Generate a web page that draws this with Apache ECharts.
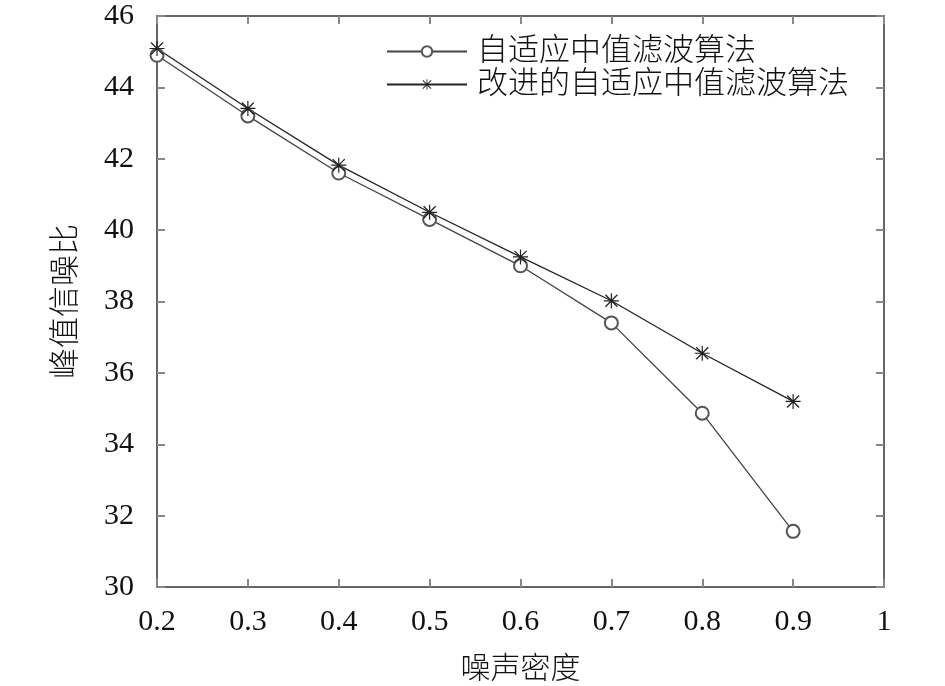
<!DOCTYPE html>
<html>
<head>
<meta charset="utf-8">
<title>峰值信噪比</title>
<script src="https://cdn.jsdelivr.net/npm/echarts@6/dist/echarts.min.js"></script>
<style>
html, body { margin: 0; padding: 0; background: #fff; }
#chart { width: 945px; height: 686px; }
</style>
</head>
<body>
<div id="chart"></div>
<script>
// 噪声密度 / 峰值信噪比
var noiseDensity = [0.2, 0.3, 0.4, 0.5, 0.6, 0.7, 0.8, 0.9];
var psnrAdaptive = [44.9, 43.2, 41.6, 40.3, 39.0, 37.4, 34.87, 31.56];
var psnrImproved = [45.09, 43.41, 41.82, 40.5, 39.25, 38.02, 36.55, 35.2];
var seriesNames = ['自适应中值滤波算法', '改进的自适应中值滤波算法'];
var xRange = [0.2, 1];
var yRange = [30, 46];

var serif = '"Liberation Serif", "Times New Roman", serif';
var cjk = '"Liberation Serif", "Noto Sans CJK SC", serif';

// 星号标记
var asterisk = 'path://M9.2 0L10.8 0L10.8 20L9.2 20Z M0 9.2L20 9.2L20 10.8L0 10.8Z ' +
	'M2.6 1.4L18.6 17.4L17.4 18.6L1.4 2.6Z M17.4 1.4L18.6 2.6L2.6 18.6L1.4 17.4Z';

function pairs(xs, ys) {
	var out = [];
	for (var i = 0; i < xs.length; i++) {
		out.push([xs[i], ys[i]]);
	}
	return out;
}

function boxAxis(pos, range, interval, showLabel, fmt) {
	return {
		type: 'value',
		position: pos,
		min: range[0],
		max: range[1],
		interval: interval,
		splitLine: { show: false },
		axisLine: { show: true, onZero: false, lineStyle: { color: '#666', width: 2 } },
		axisTick: { show: true, inside: true, length: 8, lineStyle: { color: '#888', width: 2 } },
		axisLabel: {
			show: showLabel,
			color: '#111',
			fontFamily: serif,
			fontSize: 30,
			margin: pos === 'bottom' ? 20 : 23,
			formatter: fmt
		}
	};
}

var myChart = echarts.init(document.getElementById('chart'));
window.onresize = myChart.resize;

var xFmt = function (v) { return String(+v.toFixed(1)); };
var yFmt = function (v) { return String(Math.round(v)); };

var xMain = boxAxis('bottom', xRange, 0.1, true, xFmt);
xMain.name = '噪声密度';
xMain.nameLocation = 'middle';
xMain.nameGap = 68;
xMain.nameTextStyle = { color: '#111', fontFamily: cjk, fontSize: 30, fontWeight: 300 };

var yMain = boxAxis('left', yRange, 2, true, yFmt);
yMain.name = '峰值信噪比';
yMain.nameLocation = 'middle';
yMain.nameRotate = 90;
yMain.nameGap = 75;
yMain.nameTextStyle = { color: '#111', fontFamily: cjk, fontSize: 31, fontWeight: 300 };

var option = {
	animation: false,
	backgroundColor: '#fff',
	grid: { left: 157, right: 61, top: 16, bottom: 99, containLabel: false, outerBoundsMode: 'none' },
	legend: {
		orient: 'vertical',
		left: 381,
		top: 31,
		itemWidth: 80,
		itemHeight: 13,
		itemGap: 2,
		textStyle: { color: '#111', fontFamily: cjk, fontSize: 31, fontWeight: 300, padding: [0, 0, 0, 5] },
		data: seriesNames
	},
	xAxis: [xMain, boxAxis('top', xRange, 0.1, false)],
	yAxis: [yMain, boxAxis('right', yRange, 2, false)],
	series: [
		{
			name: seriesNames[0],
			type: 'line',
			data: pairs(noiseDensity, psnrAdaptive),
			symbol: 'emptyCircle',
			symbolSize: 13,
			lineStyle: { color: '#444', width: 1.3 },
			itemStyle: { color: '#555', borderColor: '#555', borderWidth: 1.5 }
		},
		{
			name: seriesNames[1],
			type: 'line',
			data: pairs(noiseDensity, psnrImproved),
			symbol: asterisk,
			symbolSize: 15,
			lineStyle: { color: '#222', width: 1.3 },
			itemStyle: { color: '#222' }
		}
	]
};
myChart.setOption(option);
</script>
</body>
</html>
